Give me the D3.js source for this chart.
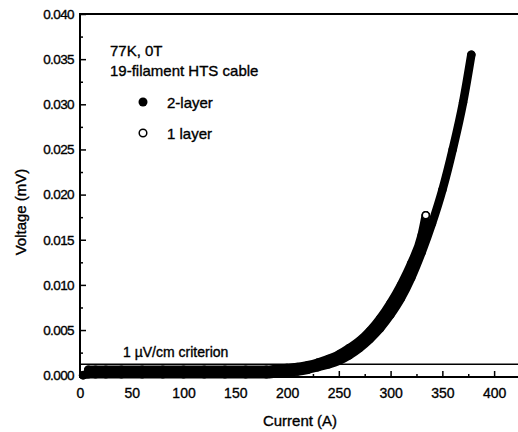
<!DOCTYPE html>
<html>
<head>
<meta charset="utf-8">
<title>V-I curve</title>
<style>
  body { margin: 0; background: #fff; }
  svg text { font-family: "Liberation Sans", Arial, sans-serif; fill: #000; stroke: #000; stroke-width: 0.35px; }
  .axis path { display: none; }
  .axis line { stroke: #000; stroke-width: 1.5px; }
  .axis text { font-size: 14px; }
  .yaxis text { font-size: 13.5px; letter-spacing: -0.6px; }
</style>
</head>
<body>
<svg width="518" height="432"></svg>
<script src="https://cdn.jsdelivr.net/npm/d3@7"></script>
<script>

// values (current in A, voltage in mV)
var current2 = [3, 8, 15, 25, 40, 60, 80, 100, 120, 140, 160, 180, 190, 200, 210, 220, 230, 240, 250, 260, 270, 280, 290, 300, 310, 320, 330, 340, 350, 360, 370, 378];
var voltage2 = [0.0000, 0.0001, 0.0001, 0.0001, 0.0001, 0.0001, 0.0001, 0.0001, 0.0001, 0.0001, 0.0001, 0.0001, 0.0002, 0.0003, 0.0004, 0.0006, 0.0009, 0.0012, 0.0016, 0.0022, 0.0030, 0.0040, 0.0052, 0.0067, 0.0085, 0.0108, 0.0136, 0.0168, 0.0205, 0.0250, 0.0302, 0.0355];

var current1 = [8, 15, 25, 40, 60, 80, 100, 120, 140, 160, 180, 190, 200, 210, 220, 230, 240, 250, 260, 270, 280, 290, 300, 310, 320, 330, 334];
var voltage1 = [0.0006, 0.0006, 0.0006, 0.0006, 0.0006, 0.0006, 0.0006, 0.0006, 0.0006, 0.0006, 0.0006, 0.0007, 0.0008, 0.0009, 0.0011, 0.0014, 0.0018, 0.0023, 0.0030, 0.0038, 0.0049, 0.0063, 0.0080, 0.0100, 0.0124, 0.0155, 0.0177];

var criterion = 0.0012;

var xTicks = [0, 50, 100, 150, 200, 250, 300, 350, 400];
var xMinor = [25, 75, 125, 175, 225, 275, 325, 375, 425];
var yTicks = [0, 0.005, 0.010, 0.015, 0.020, 0.025, 0.030, 0.035, 0.040];
var yMinor = [0.0025, 0.0075, 0.0125, 0.0175, 0.0225, 0.0275, 0.0325, 0.0375];

var svg = d3.select("svg");

var x = d3.scaleLinear().domain([0, 425]).range([80, 520]);
var y = d3.scaleLinear().domain([-0.0002, 0.040]).range([377, 14]);

function pts(cs, vs) {
	return cs.map(function(c, i) { return [c, vs[i]]; });
}
var s1 = pts(current1, voltage1),
	s2 = pts(current2, voltage2);

var line = d3.line()
	.x(function(d) { return x(d[0]); })
	.y(function(d) { return y(d[1]); })
	.curve(d3.curveMonotoneX);

// criterion line
svg.append("line")
	.attr("x1", x(0)).attr("x2", x(425))
	.attr("y1", y(criterion)).attr("y2", y(criterion))
	.attr("stroke", "#000").attr("stroke-width", 1.5);

svg.append("text")
	.attr("x", 123).attr("y", y(criterion) - 7)
	.attr("font-size", 14)
	.text("1 \u00b5V/cm criterion");

// 1 layer (open circles) underneath
svg.append("g").selectAll("circle")
	.data(s1)
	.enter().append("circle")
	.attr("cx", function(d) { return x(d[0]); })
	.attr("cy", function(d) { return y(d[1]); })
	.attr("r", 3.5)
	.attr("fill", "#fff")
	.attr("stroke", "#000")
	.attr("stroke-width", 1.5);

svg.append("path")
	.datum(s1)
	.attr("d", line)
	.attr("fill", "none")
	.attr("stroke", "#000")
	.attr("stroke-width", 8.5)
	.attr("stroke-linecap", "round");

// 2-layer (filled) on top
svg.append("path")
	.datum(s2)
	.attr("d", line)
	.attr("fill", "none")
	.attr("stroke", "#000")
	.attr("stroke-width", 8.5)
	.attr("stroke-linecap", "round");

svg.append("g").selectAll("circle")
	.data(s2)
	.enter().append("circle")
	.attr("cx", function(d) { return x(d[0]); })
	.attr("cy", function(d) { return y(d[1]); })
	.attr("r", 4.2)
	.attr("fill", "#000");

// open end marker of 1 layer stays visible
var last = s1[s1.length - 1];
svg.append("circle")
	.attr("cx", x(last[0])).attr("cy", y(last[1]))
	.attr("r", 3.5)
	.attr("fill", "#fff").attr("stroke", "#000").attr("stroke-width", 1.5);

// axes
svg.append("g")
	.attr("class", "axis")
	.attr("transform", "translate(0,377)")
	.call(d3.axisBottom(x).tickValues(xTicks).tickSize(-6).tickPadding(11).tickFormat(d3.format("d")));
svg.append("g")
	.attr("class", "axis")
	.attr("transform", "translate(0,377)")
	.call(d3.axisBottom(x).tickValues(xMinor).tickSize(-3).tickFormat(""));

svg.append("g")
	.attr("class", "axis yaxis")
	.attr("transform", "translate(80,0)")
	.call(d3.axisLeft(y).tickValues(yTicks).tickSize(-6).tickPadding(6).tickFormat(d3.format(".3f")));
svg.append("g")
	.attr("class", "axis")
	.attr("transform", "translate(80,0)")
	.call(d3.axisLeft(y).tickValues(yMinor).tickSize(-3).tickFormat(""));

// frame
svg.append("path")
	.attr("d", "M" + x(425) + "," + y(0.040) + "H" + x(0) + "V" + 377 + "H" + x(425))
	.attr("fill", "none")
	.attr("stroke", "#000")
	.attr("stroke-width", 2);

// axis titles
svg.append("text")
	.attr("x", 300).attr("y", 426)
	.attr("text-anchor", "middle")
	.attr("font-size", 15)
	.text("Current (A)");

svg.append("text")
	.attr("transform", "translate(26,212) rotate(-90)")
	.attr("text-anchor", "middle")
	.attr("font-size", 15)
	.text("Voltage (mV)");

// legend
svg.append("text").attr("x", 110).attr("y", 56).attr("font-size", 15).text("77K, 0T");
svg.append("text").attr("x", 110).attr("y", 76).attr("font-size", 15).text("19-filament HTS cable");

svg.append("circle").attr("cx", 143).attr("cy", 102).attr("r", 4.5).attr("fill", "#000");
svg.append("text").attr("x", 167).attr("y", 108).attr("font-size", 15).text("2-layer");

svg.append("circle").attr("cx", 143).attr("cy", 133).attr("r", 3.8)
	.attr("fill", "#fff").attr("stroke", "#000").attr("stroke-width", 1.5);
svg.append("text").attr("x", 167).attr("y", 139).attr("font-size", 15).text("1 layer");

</script>
</body>
</html>
